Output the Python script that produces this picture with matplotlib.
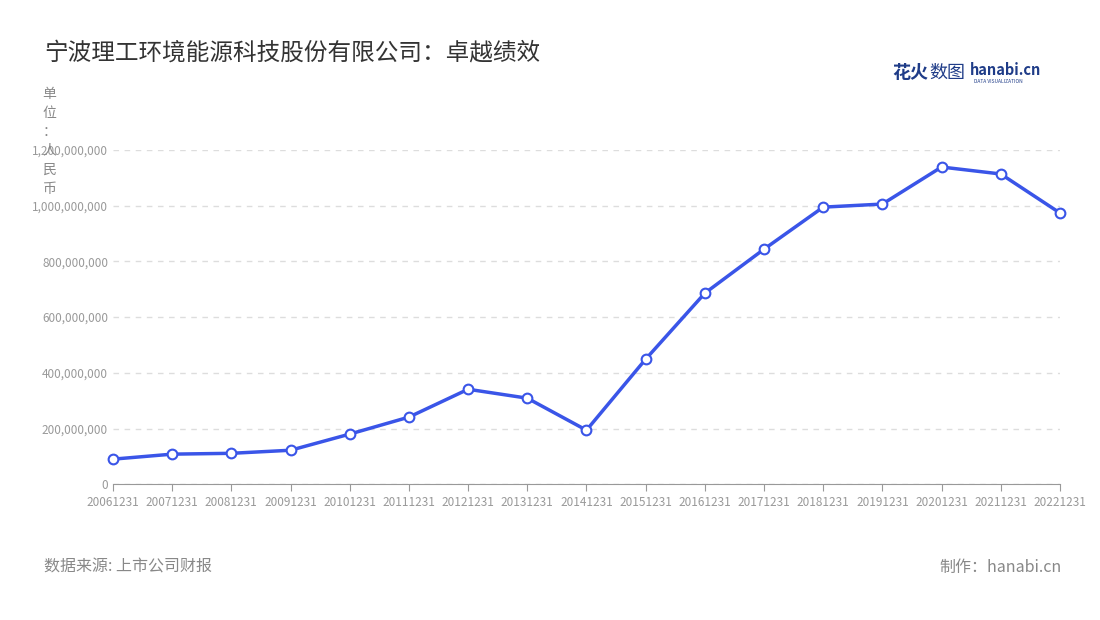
import matplotlib.pyplot as plt
from matplotlib.ticker import FuncFormatter

plt.rcParams['font.family'] = ['Noto Sans CJK SC', 'DejaVu Sans']

# 数据（从图中读取，单位：人民币）
years = ["20061231", "20071231", "20081231", "20091231", "20101231", "20111231",
         "20121231", "20131231", "20141231", "20151231", "20161231", "20171231",
         "20181231", "20191231", "20201231", "20211231", "20221231"]
values = [90e6, 108e6, 111e6, 122e6, 180e6, 241e6, 341e6, 309e6, 194e6,
          449e6, 686e6, 844e6, 995e6, 1006e6, 1139e6, 1114e6, 974e6]
yticks = [0, 200e6, 400e6, 600e6, 800e6, 1000e6, 1200e6]

fig = plt.figure(figsize=(11, 6.2), dpi=100)
ax = fig.add_axes([0.1027, 0.219, 0.8609, 0.539])

x = list(range(len(years)))
ax.plot(x, values, color="#3a55e8", linewidth=2.5, marker="o", markersize=7,
        markerfacecolor="white", markeredgecolor="#3a55e8", markeredgewidth=1.5,
        zorder=3, clip_on=False)

ax.set_xlim(0, len(years) - 1)
ax.set_ylim(0, 1200e6)
ax.set_xticks(x)
ax.set_xticklabels(years)
ax.set_yticks(yticks)
ax.yaxis.set_major_formatter(FuncFormatter(lambda v, p: f"{int(v):,}"))
ax.tick_params(axis="both", labelsize=8.5, colors="#999999", length=0)
ax.tick_params(axis="x", length=5, color="#999999")
ax.grid(axis="y", linestyle=(0, (4, 4)), color="#dddddd", linewidth=1)
for s in ["top", "right", "left"]:
    ax.spines[s].set_visible(False)
ax.spines["bottom"].set_color("#999999")

fig.text(0.04, 0.915, "宁波理工环境能源科技股份有限公司：卓越绩效", fontsize=17, color="#333333", va="center")
fig.text(0.045, 0.86, "单\n位\n：\n人\n民\n币", fontsize=10, color="#888888", va="top",
         ha="center", linespacing=1.45)
fig.text(0.04, 0.085, "数据来源: 上市公司财报", fontsize=11.5, color="#888888", va="center")
fig.text(0.965, 0.085, "制作：hanabi.cn", fontsize=11.5, color="#888888", va="center", ha="right")
fig.text(0.811, 0.883, "花火", fontsize=13, color="#1f3c88", va="center", fontweight="bold")
fig.text(0.845, 0.883, "数图", fontsize=13, color="#1f3c88", va="center")
fig.text(0.882, 0.887, "hanabi.cn", fontsize=10.5, color="#1f3c88", va="center", fontweight="bold")
fig.text(0.885, 0.869, "DATA VISUALIZATION", fontsize=3.5, color="#1f3c88", va="center")

fig.savefig("out.png", dpi=100)
